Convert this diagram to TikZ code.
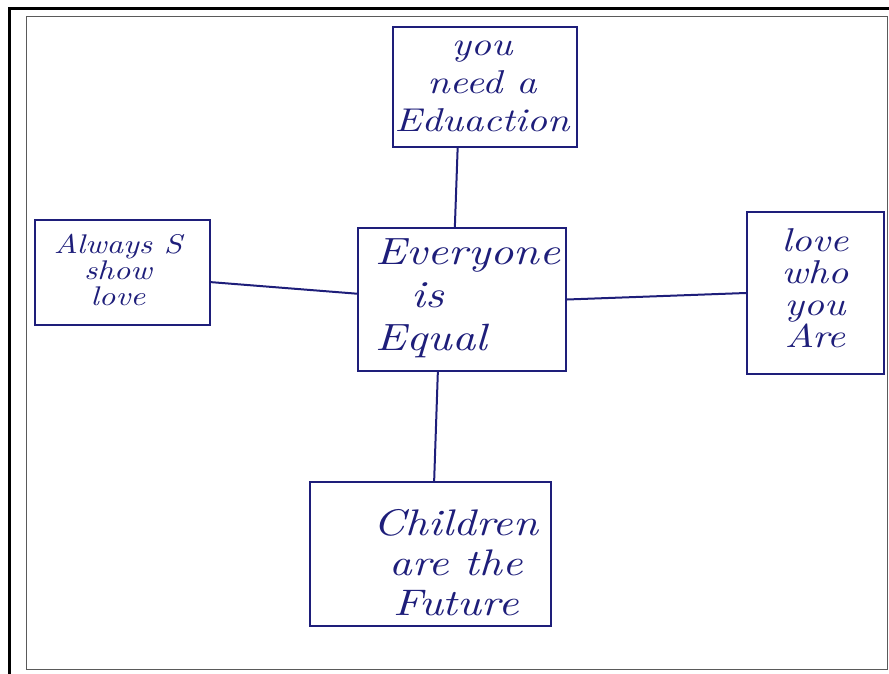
\documentclass[tikz,border=0pt]{standalone}
\usepackage{fontspec}
\usetikzlibrary{calc}
\newfontfamily\handfont{lmroman10-italic.otf}[FakeStretch=1.2]
\definecolor{ink}{HTML}{1E1E7A}
\definecolor{framegray}{HTML}{5A5A5A}
\tikzset{
  inkbox/.style={draw=ink, line width=2.1pt, rectangle, inner sep=0pt},
  inkline/.style={draw=ink, line width=2pt, line cap=round},
  hand/.style={text=ink, inner sep=0pt, align=center},
}
\begin{document}
\begin{tikzpicture}[x=1pt, y=-1pt]
  \useasboundingbox (0,0) rectangle (889,674);
  % page frame and photo edge
  \draw[black, line width=3pt] (9,674) -- (9,9) -- (889,9);
  \draw[framegray, line width=1.5pt] (26.5,16.5) rectangle (887.5,669.5);

  % boxes
  \node[inkbox, minimum width=184pt, minimum height=120pt] (edu)  at (485,87) {};
  \node[inkbox, minimum width=175pt, minimum height=105pt] (show) at (122.5,272.5) {};
  \node[inkbox, minimum width=208pt, minimum height=143pt] (eq)   at (462,299.5) {};
  \node[inkbox, minimum width=137pt, minimum height=162pt] (who)  at (815.5,293) {};
  \node[inkbox, minimum width=241pt, minimum height=144pt] (fut)  at (430.5,554) {};

  % texts
  \node[hand, font=\handfont\fontsize{33}{38}\selectfont] (edut) at (482,86) {you\\need a\\Eduaction};
  \node[hand, font=\handfont\fontsize{27}{26}\selectfont] (showt) at (118,270) {Always S\\show\\love};
  \node[hand, align=left, font=\handfont\fontsize{38}{43}\selectfont] (eqt) at (468,298) {Everyone\\\hspace{36pt}is\\Equal};
  \node[hand, font=\handfont\fontsize{33}{32}\selectfont] (whot) at (815,288) {love\\who\\you\\Are};
  \node[hand, font=\handfont\fontsize{37}{40}\selectfont] (futt) at (456,563) {Children\\are the\\Future};

  % connectors
  \draw[inkline] ($(edu.south west)!0.353!(edu.south east)$) -- ($(eq.north west)!0.466!(eq.north east)$);
  \draw[inkline] ($(show.north east)!0.59!(show.south east)$) -- ($(eq.north west)!0.46!(eq.south west)$);
  \draw[inkline] (eq.east) -- (who.west);
  \draw[inkline] ($(eq.south west)!0.385!(eq.south east)$) -- ($(fut.north west)!0.515!(fut.north east)$);
\end{tikzpicture}
\end{document}
